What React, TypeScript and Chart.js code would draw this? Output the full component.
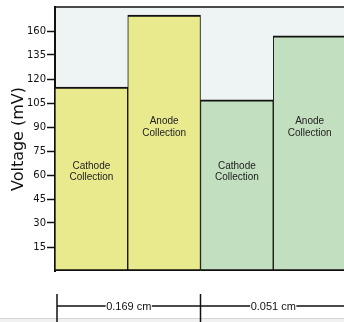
import React, { useEffect, useRef } from 'react';
import { Chart, registerables } from 'chart.js';

Chart.register(...registerables);

// ---- data ----
const categories = ['Cathode Collection', 'Anode Collection', 'Cathode Collection', 'Anode Collection'];
const voltages = [115, 160, 107, 147];
const tickValues = [15, 30, 45, 60, 75, 90, 105, 120, 135, 150];
const tickLabels = ['15', '30', '45', '60', '75', '90', '105', '120', '135', '160'];
const spanLabels = ['0.169 cm', '0.051 cm'];

// ---- styles ----
const barColors = ['#e9ea8e', '#e9ea8e', '#c2dfbf', '#c2dfbf'];
const plotBg = '#eef3f3';
const ink = '#111';

export default function App() {
  const ref = useRef<HTMLCanvasElement>(null);

  useEffect(() => {
    if (!ref.current) return;

    const bgPlugin = {
      id: 'plotBg',
      beforeDraw(chart: any) {
        const { ctx, chartArea: a } = chart;
        ctx.save();
        ctx.fillStyle = plotBg;
        ctx.fillRect(a.left, a.top, a.right - a.left, a.bottom - a.top);
        ctx.restore();
      },
    };

    const decoPlugin = {
      id: 'deco',
      afterDatasetsDraw(chart: any) {
        const { ctx, chartArea: a, scales } = chart;
        const meta = chart.getDatasetMeta(0);
        ctx.save();
        // top frame line
        ctx.strokeStyle = ink;
        ctx.lineWidth = 1.5;
        ctx.beginPath();
        ctx.moveTo(a.left, a.top);
        ctx.lineTo(a.right, a.top);
        ctx.stroke();

        // bar labels
        ctx.fillStyle = '#222';
        ctx.font = '10px "Liberation Sans", Arial, sans-serif';
        ctx.textAlign = 'center';
        ctx.textBaseline = 'middle';
        meta.data.forEach((bar: any, i: number) => {
          const name = categories[i];
          const level = name.startsWith('Cathode') ? 62 : 90;
          const cy = scales.y.getPixelForValue(level);
          const lines = name.split(' ');
          const lh = 11.5;
          lines.forEach((ln: string, j: number) => {
            ctx.fillText(ln, bar.x, cy + (j - (lines.length - 1) / 2) * lh);
          });
        });
        ctx.restore();
      },
      afterDraw(chart: any) {
        const { ctx, chartArea: a, height } = chart;
        const meta = chart.getDatasetMeta(0);
        const b1 = meta.data[1];
        const x0 = a.left + 2;
        const x1 = b1.x + b1.width / 2;
        const x2 = a.right;
        const ly = a.bottom + 35;
        ctx.save();
        // faint bottom rule
        ctx.fillStyle = '#f1f1f1';
        ctx.fillRect(0, height - 3, chart.width, 3);
        ctx.strokeStyle = '#d6d6d6';
        ctx.lineWidth = 1;
        ctx.beginPath();
        ctx.moveTo(0, height - 3.5);
        ctx.lineTo(chart.width, height - 3.5);
        ctx.stroke();

        ctx.strokeStyle = ink;
        ctx.lineWidth = 1.5;
        // vertical ticks
        [x0, x1].forEach((x) => {
          ctx.beginPath();
          ctx.moveTo(x, a.bottom + 23);
          ctx.lineTo(x, height);
          ctx.stroke();
        });
        ctx.font = '11px "Liberation Sans", Arial, sans-serif';
        ctx.textAlign = 'center';
        ctx.textBaseline = 'middle';
        ctx.fillStyle = ink;
        const segs = [
          [x0, x1],
          [x1, x2],
        ];
        segs.forEach(([s, e], i) => {
          const c = (s + e) / 2;
          const w = ctx.measureText(spanLabels[i]).width;
          ctx.beginPath();
          ctx.moveTo(s, ly);
          ctx.lineTo(c - w / 2 - 0.5, ly);
          ctx.moveTo(c + w / 2 + 0.5, ly);
          ctx.lineTo(e, ly);
          ctx.stroke();
          ctx.fillText(spanLabels[i], c, ly + 1);
        });
        ctx.restore();
      },
    };

    const chart = new Chart(ref.current, {
      type: 'bar',
      data: {
        labels: categories,
        datasets: [
          {
            data: voltages,
            backgroundColor: barColors,
            borderColor: ink,
            borderWidth: { top: 2, left: 1, right: 1, bottom: 2 } as any,
            borderSkipped: false,
            barPercentage: 1,
            categoryPercentage: 1,
          },
        ],
      },
      options: {
        responsive: false,
        animation: false,
        layout: { padding: { top: 5, left: 0, right: 4, bottom: 51 } },
        plugins: {
          legend: { display: false },
          tooltip: { enabled: false },
        },
        scales: {
          x: { display: false },
          y: {
            min: 0,
            max: 165,
            afterFit(s: any) {
              s.width = 55;
            },
            border: { display: true, color: ink, width: 2 },
            grid: {
              drawOnChartArea: false,
              drawTicks: true,
              tickLength: 8,
              tickColor: ink,
              tickWidth: 1.5,
            },
            ticks: {
              stepSize: 15,
              padding: 1,
              color: ink,
              font: { family: '"DejaVu Sans", sans-serif', size: 10 },
              callback: (v: any) => {
                const i = tickValues.indexOf(Number(v));
                return i >= 0 ? tickLabels[i] : null;
              },
            },
            title: {
              display: true,
              text: 'Voltage (mV)',
              color: ink,
              font: { family: '"DejaVu Sans", sans-serif', size: 16 },
              padding: { top: 9.5, bottom: 0 },
            },
          },
        },
      },
      plugins: [bgPlugin, decoPlugin],
    });

    return () => chart.destroy();
  }, []);

  return (
    <div
      style={{
        position: 'fixed',
        left: 0,
        top: 0,
        width: 344,
        height: 322,
        overflow: 'hidden',
        background: '#fff',
      }}
    >
      <canvas ref={ref} width={350} height={322} style={{ display: 'block' }} />
    </div>
  );
}
